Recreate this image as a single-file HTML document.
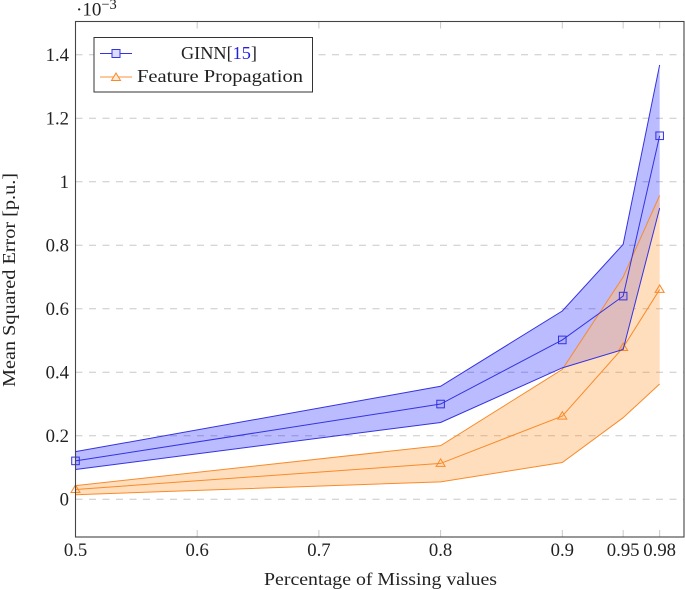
<!DOCTYPE html>
<html lang="en">
<head>
<meta charset="utf-8">
<title>Mean Squared Error vs Percentage of Missing values</title>
<style>
html,body{margin:0;padding:0;background:#fff;}
#chart{display:block;width:685px;height:590px;font-family:"Liberation Serif",serif;fill:#222;}
</style>
</head>
<body>
<svg id="chart" width="685" height="590" viewBox="0 0 685 590" xmlns="http://www.w3.org/2000/svg">
  <defs><clipPath id="ginn-clip"><polygon id="ginn-clip-shape" points="0,0"/></clipPath></defs>
  <g id="grid"></g>
  <g id="bands"></g>
  <g id="series"></g>
  <g id="ticks"></g>
  <rect x="75.5" y="21.5" width="608.5" height="515.5" fill="none" stroke="#444" stroke-width="1.1"/>
  <g id="tick-labels" font-size="18.7"></g>
  <text x="76" y="15.500" font-size="19">·10<tspan dy="-6.500" font-size="14.500">−3</tspan></text>
  <text x="264" y="585" font-size="17.5" textLength="233" lengthAdjust="spacingAndGlyphs">Percentage of Missing values</text>
  <text transform="translate(15 387) rotate(-90)" font-size="17.5" textLength="214" lengthAdjust="spacingAndGlyphs">Mean Squared Error [p.u.]</text>
  <g>
    <rect x="94" y="37.5" width="218.5" height="54.5" fill="#fff" stroke="#333" stroke-width="1"/>
    <line x1="100" x2="132" y1="53.5" y2="53.5" stroke="#3434e6" stroke-width="1"/>
    <rect x="112" y="49.5" width="8" height="8" fill="#dcdcff" stroke="#3434e6" stroke-width="1"/>
    <text x="181" y="59" font-size="17.5" textLength="76" lengthAdjust="spacingAndGlyphs">GINN[<tspan fill="#2222dd">15</tspan>]</text>
    <line x1="100" x2="132" y1="77" y2="77" stroke="#fba765" stroke-width="1.2"/>
    <path d="M116 73L120.5 80.5H111.500Z" fill="#ffe9d5" stroke="#f98a2a" stroke-width="1"/>
    <text x="137" y="82" font-size="17.5" textLength="166" lengthAdjust="spacingAndGlyphs">Feature Propagation</text>
  </g>
</svg>
<script>
var xCategories = [0.5, 0.8, 0.9, 0.95, 0.98];
var xTickValues = [0.5, 0.6, 0.7, 0.8, 0.9, 0.95, 0.98];
var xTickLabels = ['0.5', '0.6', '0.7', '0.8', '0.9', '0.95', '0.98'];
var yTickValues = [0, 0.2, 0.4, 0.6, 0.8, 1, 1.2, 1.4];
var yTickLabels = ['0', '0.2', '0.4', '0.6', '0.8', '1', '1.2', '1.4'];
var ginnMean = [0.121, 0.300, 0.502, 0.640, 1.145];
var ginnUpper = [0.150, 0.356, 0.593, 0.803, 1.368];
var ginnLower = [0.094, 0.242, 0.414, 0.472, 0.917];
var fpMean = [0.031, 0.113, 0.262, 0.478, 0.661];
var fpUpper = [0.043, 0.169, 0.409, 0.700, 0.957];
var fpLower = [0.0145, 0.055, 0.116, 0.257, 0.363];

var NS = 'http://www.w3.org/2000/svg';
function xScale(v) { return 75.5 + (v - 0.5) * 1217; }
function yScale(v) { return 499.3 - v * 317.5; }
function make(tag, attrs, parent) {
  var el = document.createElementNS(NS, tag);
  for (var k in attrs) { el.setAttribute(k, attrs[k]); }
  parent.appendChild(el);
  return el;
}
function pointList(values) {
  return values.map(function (v, i) { return xScale(xCategories[i]) + ',' + yScale(v); });
}
function bandPoints(upper, lower) {
  return pointList(upper).concat(pointList(lower).reverse()).join(' ');
}

var grid = document.getElementById('grid');
var ticks = document.getElementById('ticks');
var labels = document.getElementById('tick-labels');

yTickValues.forEach(function (v, i) {
  var g = make('line', {x1: 75.5, x2: 684, y1: yScale(v), y2: yScale(v), stroke: '#c8c8c8', 'stroke-width': 1, 'stroke-dasharray': '7 6.5'}, grid);
  
  
  var t = make('text', {x: 69, y: yScale(v) + 6, 'text-anchor': 'end'}, labels);
  t.textContent = yTickLabels[i];
  
  
});

xTickValues.forEach(function (v, i) {
  var x = xScale(v);
  var b = make('line', {x1: x, x2: x, y1: 537, y2: 530, stroke: '#c8c8c8', 'stroke-width': 1}, ticks);
  
  
  var u = make('line', {x1: x, x2: x, y1: 21.5, y2: 28.5, stroke: '#c8c8c8', 'stroke-width': 1}, ticks);
  
  
  var t = make('text', {x: x, y: 556, 'text-anchor': 'middle'}, labels);
  t.textContent = xTickLabels[i];
  
  
});

var bandLayer = document.getElementById('bands');
var seriesLayer = document.getElementById('series');

var ginnBand = make('polygon', {points: bandPoints(ginnUpper, ginnLower), fill: '#0000ff', 'fill-opacity': 0.265}, bandLayer);



var fpBand = make('polygon', {points: bandPoints(fpUpper, fpLower), fill: '#ff8000', 'fill-opacity': 0.26}, bandLayer);



document.getElementById('ginn-clip-shape').setAttribute('points', bandPoints(ginnUpper, ginnLower));
var overlapBand = make('polygon', {points: bandPoints(fpUpper, fpLower), fill: '#debdbd', 'fill-opacity': 0.95, 'clip-path': 'url(#ginn-clip)'}, bandLayer);



function drawSeries(mean, upper, lower, stroke, fill, prefix, marker) {
  var up = make('polyline', {points: pointList(upper).join(' '), fill: 'none', stroke: stroke, 'stroke-width': 1}, seriesLayer);
  
  
  var low = make('polyline', {points: pointList(lower).join(' '), fill: 'none', stroke: stroke, 'stroke-width': 1}, seriesLayer);
  
  
  var mid = make('polyline', {points: pointList(mean).join(' '), fill: 'none', stroke: stroke, 'stroke-width': 1}, seriesLayer);
  
  
  mean.forEach(function (v, i) {
    var cx = xScale(xCategories[i]);
    var cy = yScale(v);
    var m;
    if (marker === 'square') {
      m = make('rect', {x: cx - 3.8, y: cy - 3.8, width: 7.6, height: 7.6, fill: fill, 'fill-opacity': 0.06, stroke: stroke, 'stroke-width': 1}, seriesLayer);
    } else {
      m = make('path', {d: 'M' + cx + ' ' + (cy - 4.5) + 'L' + (cx + 4.5) + ' ' + (cy + 3) + 'H' + (cx - 4.5) + 'Z', fill: fill, 'fill-opacity': 0.06, stroke: stroke, 'stroke-width': 1}, seriesLayer);
    }
    
    
  });
}

drawSeries(fpMean, fpUpper, fpLower, '#f98a2a', '#ff8000', 'feature-propagation', 'triangle');
drawSeries(ginnMean, ginnUpper, ginnLower, '#3333e0', '#0000ff', 'ginn', 'square');
</script>
</body>
</html>
